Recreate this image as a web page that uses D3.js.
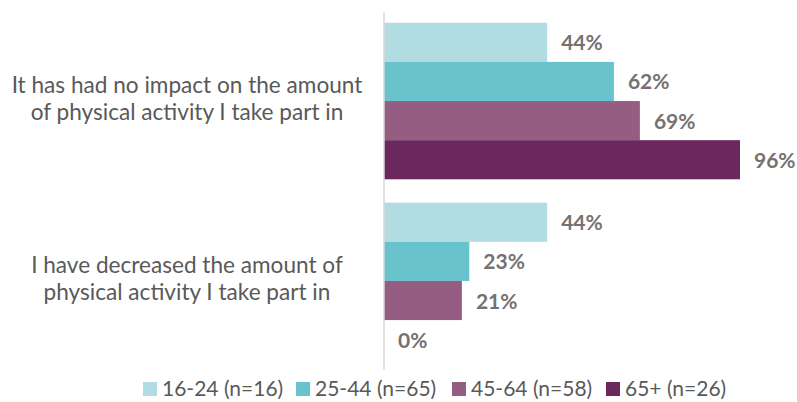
<!DOCTYPE html>
<html>
<head>
<meta charset="utf-8">
<script src="https://cdn.jsdelivr.net/npm/d3@7"></script>
<style>
  body { margin: 0; background: #fff; }
  svg text { font-family: Lato, "Open Sans", sans-serif; }
</style>
</head>
<body>
<div id="chart"></div>
<script>
// data
var categories = [
  ["It has had no impact on the amount", "of physical activity I take part in"],
  ["I have decreased the amount of", "physical activity I take part in"]
];
var seriesNames = ["16-24 (n=16)", "25-44 (n=65)", "45-64 (n=58)", "65+ (n=26)"];
var seriesColors = ["#B0DCE2", "#69C3CD", "#955D82", "#6A285F"];
var noImpact = [44, 62, 69, 96];
var decreased = [44, 23, 21, 0];
var values = [noImpact, decreased];

var svgWidth = 797, svgHeight = 402;
var svg = d3.select("#chart").append("svg").attr("width", svgWidth).attr("height", svgHeight);

var x = d3.scaleLinear().domain([0, 96]).range([384, 740]);
var y0 = d3.scaleBand().domain([0, 1]).range([12, 370]).paddingInner(0.13).paddingOuter(0.06);
var y1 = d3.scaleBand().domain(d3.range(seriesNames.length)).range([0, y0.bandwidth()]);

var groups = svg.selectAll("g.group").data(values).enter().append("g")
  .attr("class", "group")
  .attr("transform", function(d, i){ return "translate(0," + y0(i) + ")"; });

groups.selectAll("rect").data(function(d){ return d; }).enter().append("rect")
  .attr("x", x(0))
  .attr("y", function(d, i){ return y1(i); })
  .attr("width", function(d){ return x(d) - x(0); })
  .attr("height", y1.bandwidth())
  .attr("fill", function(d, i){ return seriesColors[i]; });

groups.selectAll("text.val").data(function(d){ return d; }).enter().append("text")
  .attr("class", "val")
  .attr("x", function(d){ return x(d) + 14; })
  .attr("y", function(d, i){ return y1(i) + y1.bandwidth() / 2 + 8; })
  .attr("font-size", 21).attr("font-weight", "bold").attr("fill", "#767171")
  .text(function(d){ return d + "%"; });

// category labels, two lines centred on each group
groups.append("text")
  .attr("text-anchor", "middle")
  .attr("font-size", 22.6).attr("fill", "#595959")
  .selectAll("tspan").data(function(d, i){ return categories[i]; }).enter().append("tspan")
  .attr("x", 187)
  .attr("y", function(d, i){ return y0.bandwidth() / 2 - 8 + i * 27; })
  .text(function(d){ return d; });

// axis line
svg.append("line")
  .attr("x1", x(0)).attr("x2", x(0)).attr("y1", 12).attr("y2", 370)
  .attr("stroke", "#D9D9D9").attr("stroke-width", 1.5);

// legend
var legend = svg.append("g").attr("transform", "translate(143,389)");
var offsets = [0, 153, 309, 463];
var items = legend.selectAll("g").data(seriesNames).enter().append("g")
  .attr("transform", function(d, i){ return "translate(" + offsets[i] + ",0)"; });
items.append("rect").attr("x", 0).attr("y", -7).attr("width", 14).attr("height", 14)
  .attr("fill", function(d, i){ return seriesColors[i]; });
items.append("text").attr("x", 19).attr("y", 7)
  .attr("font-size", 21).attr("fill", "#595959")
  .text(function(d){ return d; });
</script>
</body>
</html>
